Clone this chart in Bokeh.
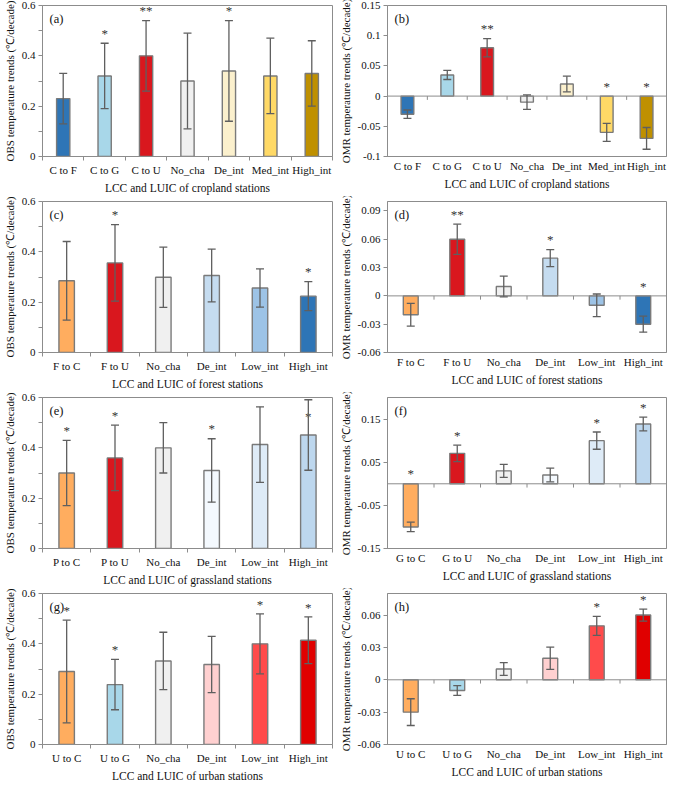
from bokeh.plotting import figure
from bokeh.layouts import gridplot
from bokeh.models import (Range1d, FixedTicker, Whisker, TeeHead, ColumnDataSource,
                          Span, Label, CustomJSTickFormatter)
from bokeh.core.properties import value
from bokeh.embed import file_html
from bokeh.resources import INLINE

FONT = "Liberation Serif"

# ---------------- data ----------------
# (a) OBS, cropland
a_cats = ["C to F", "C to G", "C to U", "No_cha", "De_int", "Med_int", "High_int"]
a_vals = [0.23, 0.32, 0.40, 0.30, 0.34, 0.32, 0.33]
a_errs = [0.10, 0.13, 0.14, 0.19, 0.20, 0.15, 0.13]
a_sig = ["", "*", "**", "", "*", "", ""]
a_yticks = [0, 0.2, 0.4, 0.6]

# (b) OMR, cropland
b_cats = ["C to F", "C to G", "C to U", "No_cha", "De_int", "Med_int", "High_int"]
b_vals = [-0.03, 0.035, 0.08, -0.01, 0.02, -0.06, -0.07]
b_errs = [0.007, 0.0075, 0.015, 0.012, 0.013, 0.015, 0.018]
b_sig = ["", "", "**", "", "", "*", "*"]
b_yticks = [-0.1, -0.05, 0, 0.05, 0.1, 0.15]

# (c) OBS, forest
c_cats = ["F to C", "F to U", "No_cha", "De_int", "Low_int", "High_int"]
c_vals = [0.285, 0.356, 0.299, 0.306, 0.256, 0.224]
c_errs = [0.156, 0.152, 0.12, 0.105, 0.076, 0.058]
c_sig = ["", "*", "", "", "", "*"]
c_yticks = [0, 0.2, 0.4, 0.6]

# (d) OMR, forest
d_cats = ["F to C", "F to U", "No_cha", "De_int", "Low_int", "High_int"]
d_vals = [-0.02, 0.06, 0.01, 0.04, -0.01, -0.03]
d_errs = [0.012, 0.016, 0.011, 0.009, 0.012, 0.0085]
d_sig = ["", "**", "", "*", "", "*"]
d_yticks = [-0.06, -0.03, 0, 0.03, 0.06, 0.09]

# (e) OBS, grassland
e_cats = ["P to C", "P to U", "No_cha", "De_int", "Low_int", "High_int"]
e_vals = [0.30, 0.36, 0.40, 0.31, 0.413, 0.451]
e_errs = [0.13, 0.13, 0.10, 0.126, 0.15, 0.14]
e_sig = ["*", "*", "", "*", "", "*"]
e_yticks = [0, 0.2, 0.4, 0.6]

# (f) OMR, grassland
f_cats = ["G to C", "G to U", "No_cha", "De_int", "Low_int", "High_int"]
f_vals = [-0.10, 0.0705, 0.030, 0.0205, 0.10, 0.1386]
f_errs = [0.011, 0.019, 0.015, 0.016, 0.02, 0.016]
f_sig = ["*", "*", "", "", "*", "*"]
f_yticks = [-0.15, -0.05, 0.05, 0.15]

# (g) OBS, urban
g_cats = ["U to C", "U to G", "No_cha", "De_int", "Low_int", "High_int"]
g_vals = [0.29, 0.238, 0.332, 0.318, 0.40, 0.414]
g_errs = [0.204, 0.10, 0.114, 0.112, 0.119, 0.093]
g_sig = ["*", "*", "", "", "*", "*"]
g_yticks = [0, 0.2, 0.4, 0.6]

# (h) OMR, urban
h_cats = ["U to C", "U to G", "No_cha", "De_int", "Low_int", "High_int"]
h_vals = [-0.03, -0.01, 0.01, 0.02, 0.05, 0.06]
h_errs = [0.0124, 0.0045, 0.006, 0.0103, 0.0088, 0.0056]
h_sig = ["", "", "", "", "*", "*"]
h_yticks = [-0.06, -0.03, 0, 0.03, 0.06]

OBS_LABEL = "OBS temperature trends (\u2103/decade)"
OMR_LABEL = "OMR temperature trends (\u2103/decade)"

# ---------------- styles ----------------
BLUE = "#2e75b6"
LBLUE = "#a8d7e9"
RED = "#d9171e"
GREY = "#f0f0f0"
ORANGE = "#ffad5f"
crop_colors = [BLUE, LBLUE, RED, GREY, "#fbf0cd", "#ffd966", "#bf9000"]
forest_colors = [ORANGE, RED, GREY, "#c5dcf0", "#9dc3e6", BLUE]
grass_colors = [ORANGE, RED, GREY, "#f4f9fe", "#deebf7", "#bdd7ee"]
urban_colors = [ORANGE, LBLUE, GREY, "#ffd0d0", "#ff4b4b", "#e00000"]

AXIS = "#8c8c8c"
OUTLINE = "#7a7a7a"
ERR = "#5f5f5f"
TXT = "#111111"


def make_panel(tag, cats, vals, errs, sig, colors, yticks, ylo, yhi,
               ylabel, xlabel, is_left):
    n = len(cats)
    p = figure(width=336 if is_left else 333, height=196,
               x_range=Range1d(0.5, n + 0.5), y_range=Range1d(ylo, yhi),
               output_backend="svg", toolbar_location=None, tools="",
               min_border_left=36 if is_left else 45,
               min_border_right=4 if is_left else 3,
               min_border_top=5, min_border_bottom=30)
    p.grid.visible = False
    p.outline_line_color = AXIS
    p.outline_line_width = 1

    xs = list(range(1, n + 1))
    bounds = [i + 0.5 for i in range(0, n + 1)]
    lower = [v - e for v, e in zip(vals, errs)]
    upper = [v + e for v, e in zip(vals, errs)]
    rng = yhi - ylo
    star_y = []
    for v, u in zip(vals, upper):
        y = max(u, 0) + 0.065 * rng
        if y > yhi - 0.03 * rng:
            y = v + 0.12 * rng
        star_y.append(y)

    src = ColumnDataSource(dict(x=xs, top=vals, lower=lower, upper=upper,
                                color=colors, sy=star_y, sig=sig))

    negative = ylo < 0
    if negative:
        p.add_layout(Span(location=0, dimension="width", line_color=AXIS,
                          line_width=1))
        p.segment(x0=bounds, y0=[0] * len(bounds), x1=bounds,
                  y1=[-0.025 * rng] * len(bounds), line_color=AXIS, line_width=1)

    p.vbar(x="x", top="top", bottom=0, width=0.32, fill_color="color",
           line_color=OUTLINE, line_width=1.4, source=src)

    wk = Whisker(source=src, base="x", lower="lower", upper="upper",
                 line_color=ERR, line_width=1.3,
                 upper_head=TeeHead(size=8, line_color=ERR, line_width=1.3),
                 lower_head=TeeHead(size=8, line_color=ERR, line_width=1.3))
    wk.level = "annotation"
    p.add_layout(wk)

    p.text(x="x", y="sy", text="sig", source=src, text_align="center",
           text_baseline="middle", text_font=value(FONT),
           text_font_size="13px", text_color="#333333")

    p.add_layout(Label(x=0.5, y=yhi, x_offset=7, y_offset=-6,
                       text="(%s)" % tag, text_baseline="top",
                       text_font=FONT, text_font_size="12.5px",
                       text_color=TXT))

    # x axis
    xa = p.xaxis[0]
    xa.ticker = FixedTicker(ticks=xs, minor_ticks=[] if negative else bounds)
    xa.formatter = CustomJSTickFormatter(args=dict(labels=cats),
                                         code="return labels[Math.round(tick) - 1];")
    xa.major_tick_line_color = None
    xa.major_tick_in = 0
    xa.major_tick_out = 0
    xa.minor_tick_in = 0
    xa.minor_tick_out = 4
    xa.minor_tick_line_color = AXIS
    xa.axis_line_color = AXIS
    xa.major_label_text_font = FONT
    xa.major_label_text_font_size = "11px"
    xa.major_label_text_color = TXT
    xa.major_label_standoff = 3
    xa.axis_label = xlabel
    xa.axis_label_text_font = FONT
    xa.axis_label_text_font_size = "11.5px"
    xa.axis_label_text_font_style = "normal"
    xa.axis_label_text_color = TXT
    xa.axis_label_standoff = 3

    # y axis
    ya = p.yaxis[0]
    minor = []
    if not negative:
        minor = [(a + b) / 2 for a, b in zip(yticks[:-1], yticks[1:])]
    ya.ticker = FixedTicker(ticks=yticks, minor_ticks=minor)
    ya.formatter = CustomJSTickFormatter(
        code="return String(Math.round(tick * 1000) / 1000);")
    ya.major_tick_in = 0
    ya.major_tick_out = 4
    ya.major_tick_line_color = AXIS
    ya.minor_tick_in = 0
    ya.minor_tick_out = 4
    ya.minor_tick_line_color = AXIS
    ya.axis_line_color = AXIS
    ya.major_label_text_font = FONT
    ya.major_label_text_font_size = "11px"
    ya.major_label_text_color = TXT
    ya.major_label_standoff = 3
    ya.axis_label = ylabel
    ya.axis_label_text_font = FONT
    ya.axis_label_text_font_size = "11px"
    ya.axis_label_text_font_style = "normal"
    ya.axis_label_text_color = TXT
    ya.axis_label_standoff = 3
    return p


pa = make_panel("a", a_cats, a_vals, a_errs, a_sig, crop_colors, a_yticks, 0, 0.6,
                OBS_LABEL, "LCC and LUIC of cropland stations", True)
pb = make_panel("b", b_cats, b_vals, b_errs, b_sig, crop_colors, b_yticks, -0.1, 0.15,
                OMR_LABEL, "LCC and LUIC of cropland stations", False)
pc = make_panel("c", c_cats, c_vals, c_errs, c_sig, forest_colors, c_yticks, 0, 0.6,
                OBS_LABEL, "LCC and LUIC of forest stations", True)
pd_ = make_panel("d", d_cats, d_vals, d_errs, d_sig, forest_colors, d_yticks, -0.06, 0.1,
                 OMR_LABEL, "LCC and LUIC of forest stations", False)
pe = make_panel("e", e_cats, e_vals, e_errs, e_sig, grass_colors, e_yticks, 0, 0.6,
                OBS_LABEL, "LCC and LUIC of grassland stations", True)
pf = make_panel("f", f_cats, f_vals, f_errs, f_sig, grass_colors, f_yticks, -0.15, 0.2,
                OMR_LABEL, "LCC and LUIC of grassland stations", False)
pg = make_panel("g", g_cats, g_vals, g_errs, g_sig, urban_colors, g_yticks, 0, 0.6,
                OBS_LABEL, "LCC and LUIC of urban stations", True)
ph = make_panel("h", h_cats, h_vals, h_errs, h_sig, urban_colors, h_yticks, -0.06, 0.08,
                OMR_LABEL, "LCC and LUIC of urban stations", False)

grid = gridplot([[pa, pb], [pc, pd_], [pe, pf], [pg, ph]], toolbar_location=None)

open("out.html", "w").write(file_html(grid, INLINE))
